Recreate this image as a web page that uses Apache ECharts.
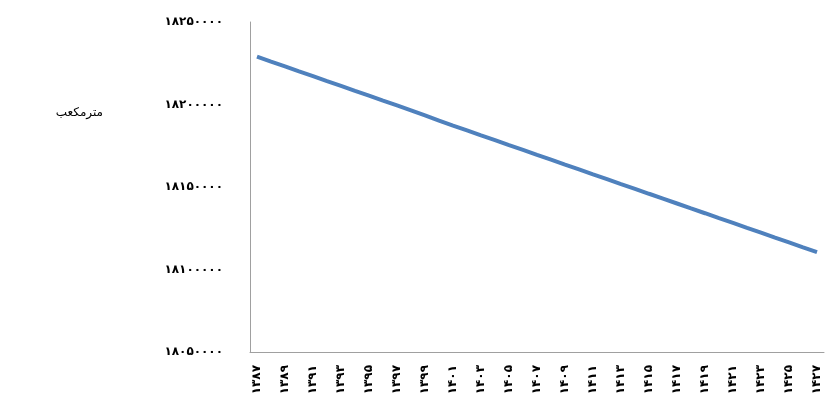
<!DOCTYPE html>
<html>
<head>
<meta charset="utf-8">
<script src="https://cdn.jsdelivr.net/npm/echarts@6/dist/echarts.min.js"></script>
<style>html,body{margin:0;padding:0;background:#fff}#c{width:826px;height:404px}</style>
</head>
<body>
<div id="c"></div>
<script>
const unitLabel = 'مترمکعب';
const categories = ['۱۳۸۷','۱۳۸۸','۱۳۸۹','۱۳۹۰','۱۳۹۱','۱۳۹۲','۱۳۹۳','۱۳۹۴','۱۳۹۵','۱۳۹۶','۱۳۹۷','۱۳۹۸','۱۳۹۹','۱۴۰۰','۱۴۰۱','۱۴۰۲','۱۴۰۳','۱۴۰۴','۱۴۰۵','۱۴۰۶','۱۴۰۷','۱۴۰۸','۱۴۰۹','۱۴۱۰','۱۴۱۱','۱۴۱۲','۱۴۱۳','۱۴۱۴','۱۴۱۵','۱۴۱۶','۱۴۱۷','۱۴۱۸','۱۴۱۹','۱۴۲۰','۱۴۲۱','۱۴۲۲','۱۴۲۳','۱۴۲۴','۱۴۲۵','۱۴۲۶','۱۴۲۷'];
const values = [18229000,18226000,18223100,18220100,18217200,18214200,18211300,18208300,18205400,18202400,18199500,18196500,18193400,18190300,18187200,18184300,18181300,18178400,18175400,18172500,18169500,18166600,18163600,18160700,18157700,18154800,18151800,18148900,18145900,18143000,18140000,18137000,18134100,18131100,18128200,18125200,18122300,18119300,18116400,18113400,18110500];
const yMin = 18050000, yMax = 18250000, yStep = 50000;

const fa = d => String(d).replace(/[0-9]/g, c => '۰۱۲۳۴۵۶۷۸۹'[c]);

const chart = echarts.init(document.getElementById('c'), null, {renderer:'canvas'});
chart.setOption({
  animation: false,
  backgroundColor: '#fff',
  graphic: [{
    type: 'text', right: 723, top: 107,
    style: {text: unitLabel, fontFamily: 'DejaVu Sans', fontSize: 12, fill: '#000'}
  }],
  grid: {left: 250, right: 2, top: 22, bottom: 52, containLabel: false},
  xAxis: {
    type: 'category', data: categories, boundaryGap: true,
    axisLine: {lineStyle: {color: '#a0a0a0', width: 1}},
    axisTick: {show: false},
    axisLabel: {interval: 1, rotate: 90, margin: 13, fontSize: 12, fontWeight: 'bold', fontFamily: 'DejaVu Sans', color: '#000'}
  },
  yAxis: {
    type: 'value', min: yMin, max: yMax, interval: yStep,
    axisLine: {show: true, lineStyle: {color: '#a0a0a0', width: 1}},
    axisTick: {show: false},
    splitLine: {show: false},
    axisLabel: {margin: 27, fontSize: 12, fontWeight: 'bold', fontFamily: 'DejaVu Sans', color: '#000', formatter: v => fa(v), padding: [0,0,8,0]}
  },
  series: [{
    type: 'line', data: values, showSymbol: false, symbol: 'none',
    lineStyle: {color: '#4f81bd', width: 4}
  }]
});
</script>
</body>
</html>
